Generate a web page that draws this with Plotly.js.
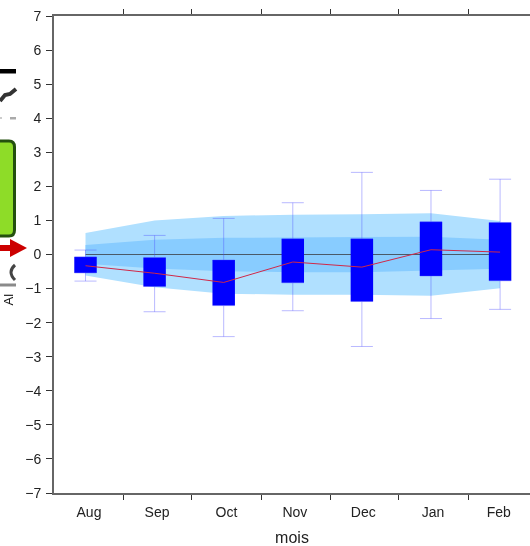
<!DOCTYPE html>
<html>
<head>
<meta charset="utf-8">
<script src="https://cdn.plot.ly/plotly-3.0.1.min.js"></script>
<style>html,body{margin:0;padding:0;background:#fff}#chart{width:530px;height:546px;filter:blur(0.4px)}</style>
</head>
<body>
<div id="chart"></div>
<script>
const months = ['Aug','Sep','Oct','Nov','Dec','Jan','Feb'];
const positions = [0,1,2,3,4,5,6];
const labelPositions = [0.05,1.035,2.04,3.03,4.02,5.03,5.98];
const edgeTicks = [-0.46,0.55,1.53,2.54,3.54,4.53,5.54];
const q3 = [-0.07,-0.09,-0.16,0.46,0.46,0.96,0.94];
const q1 = [-0.54,-0.94,-1.50,-0.83,-1.38,-0.63,-0.77];
const whiskerHigh = [0.13,0.56,1.06,1.52,2.41,1.88,2.21];
const whiskerLow = [-0.78,-1.68,-2.41,-1.65,-2.70,-1.88,-1.61];
const observed = [-0.33,-0.55,-0.82,-0.22,-0.37,0.14,0.07];
const outerHigh = [0.63,1.00,1.13,1.17,1.18,1.21,0.98];
const outerLow = [-0.62,-0.96,-1.15,-1.18,-1.18,-1.21,-0.99];
const innerHigh = [0.28,0.43,0.49,0.51,0.51,0.52,0.43];
const innerLow = [-0.27,-0.41,-0.49,-0.52,-0.52,-0.48,-0.42];
const zeros = [0,0,0,0,0,0,0];

const outerColor = '#b0e0ff', innerColor = '#88ccff', whiskerColor = 'rgba(70,70,255,0.38)';
const textColor = '#222222', axisColor = '#666666';
const font = 'Liberation Sans, Arial, sans-serif';
const xRange = [-0.456,6.433];
const diff = (a,b) => a.map((v,i)=>v-b[i]);

const band = (hi,lo,color) => [
  {x:positions,y:lo,mode:'lines',line:{width:0,color:color},hoverinfo:'skip',showlegend:false},
  {x:positions,y:hi,mode:'lines',line:{width:0,color:color},fill:'tonexty',fillcolor:color,hoverinfo:'skip',showlegend:false}
];
const traces = [
  ...band(outerHigh,outerLow,outerColor),
  ...band(innerHigh,innerLow,innerColor),
  {x:positions,y:zeros,mode:'lines',line:{color:'#4a5a68',width:1},hoverinfo:'skip',showlegend:false},
  {type:'bar',x:positions,y:diff(q3,q1),base:q1,width:0.325,marker:{color:'#0000ff',line:{width:0}},xaxis:'x2',yaxis:'y2',showlegend:false},
  {x:positions,y:q3,mode:'markers',marker:{size:1,opacity:0},xaxis:'x2',yaxis:'y2',showlegend:false,
   error_y:{type:'data',symmetric:false,array:diff(whiskerHigh,q3),arrayminus:zeros,color:whiskerColor,thickness:1,width:11}},
  {x:positions,y:q1,mode:'markers',marker:{size:1,opacity:0},xaxis:'x2',yaxis:'y2',showlegend:false,
   error_y:{type:'data',symmetric:false,array:zeros,arrayminus:diff(q1,whiskerLow),color:whiskerColor,thickness:1,width:11}},
  {x:positions,y:observed,mode:'lines',line:{color:'#d02848',width:1},xaxis:'x2',yaxis:'y2',showlegend:false}
];

// cropped picture fragment at the left edge, in page pixels
const px = v => (v-54)/476, py = v => (493-v)/477;
const shape = (type,x0,y0,x1,y1,fill,line,w) => ({type,xref:'paper',yref:'paper',x0:px(x0),x1:px(x1),y0:py(y0),y1:py(y1),fillcolor:fill,line:{color:line,width:w}});
const pathShape = (pts,fill,line,w,close) => ({type:'path',xref:'paper',yref:'paper',
  path:pts.map((p,i)=>(i?'L':'M')+px(p[0])+','+py(p[1])).join(' ')+(close?' Z':''),fillcolor:fill,line:{color:line,width:w}});
const P = (x,y) => px(x)+','+py(y);
const shapes = [
  shape('rect',0,69,16,73.5,'#000000','#000000',0),
  pathShape([[0,101],[5,95],[10,94],[16,89]],'rgba(0,0,0,0)','#333333',4,false),
  shape('rect',0,117,2,119,'#cccccc','#cccccc',0),
  shape('rect',10,117,16,119.5,'#aaaaaa','#aaaaaa',0),
  {type:'path',xref:'paper',yref:'paper',fillcolor:'#8edc28',line:{color:'#24500f',width:3},
   path:'M'+P(-4,141)+' L'+P(9,141)+' Q'+P(14.5,141)+' '+P(14.5,147)+' L'+P(14.5,230)+' Q'+P(14.5,236)+' '+P(9,236)+' L'+P(-4,236)+' Z'},
  shape('rect',0,245,11,251,'#cc0000','#cc0000',0),
  pathShape([[10,239],[27,248],[10,257]],'#cc0000','#cc0000',0,true),
  {type:'path',xref:'paper',yref:'paper',fillcolor:'rgba(0,0,0,0)',line:{color:'#444444',width:3},
   path:'M'+P(15,265)+' Q'+P(7,272)+' '+P(15,280)},
  shape('rect',0,283.5,16,286.5,'#8a8a8a','#8a8a8a',0)
];

const layout = {
  width:530,height:546,
  margin:{l:54,r:0,t:16,b:53,pad:0},
  paper_bgcolor:'#ffffff',plot_bgcolor:'#ffffff',
  showlegend:false,
  font:{family:font,color:textColor,size:14},
  barmode:'overlay',
  xaxis:{range:xRange,tickmode:'array',tickvals:edgeTicks,ticktext:edgeTicks.map(()=>''),ticks:'outside',ticklen:5,tickwidth:1,tickcolor:'#333333',
    showline:true,linecolor:axisColor,linewidth:2,mirror:'ticks',showgrid:false,zeroline:false},
  xaxis2:{overlaying:'x',range:xRange,side:'bottom',anchor:'y',tickmode:'array',tickvals:labelPositions,ticktext:months,ticks:'outside',ticklen:6,tickcolor:'rgba(0,0,0,0)',
    tickfont:{size:14,color:textColor,family:font},showline:false,showgrid:false,zeroline:false,
    title:{text:'mois',font:{size:16,color:textColor,family:font},standoff:17}},
  yaxis:{range:[-7,7],tickmode:'linear',tick0:-7,dtick:1,ticks:'outside',ticklen:6,tickwidth:1,tickcolor:'#333333',ticklabelstandoff:2,
    tickfont:{size:14,color:textColor,family:font},showline:true,linecolor:axisColor,linewidth:2,showgrid:false,zeroline:false},
  yaxis2:{overlaying:'y',range:[-7,7],visible:false,anchor:'x'},
  shapes:shapes,
  annotations:[
    {xref:'paper',yref:'paper',x:px(7.5),y:py(300),xanchor:'center',yanchor:'middle',text:'Al',showarrow:false,textangle:-90,font:{size:13,color:'#111111',family:font}}
  ]
};
Plotly.newPlot('chart',traces,layout,{staticPlot:true,displayModeBar:false});
</script>
</body>
</html>
